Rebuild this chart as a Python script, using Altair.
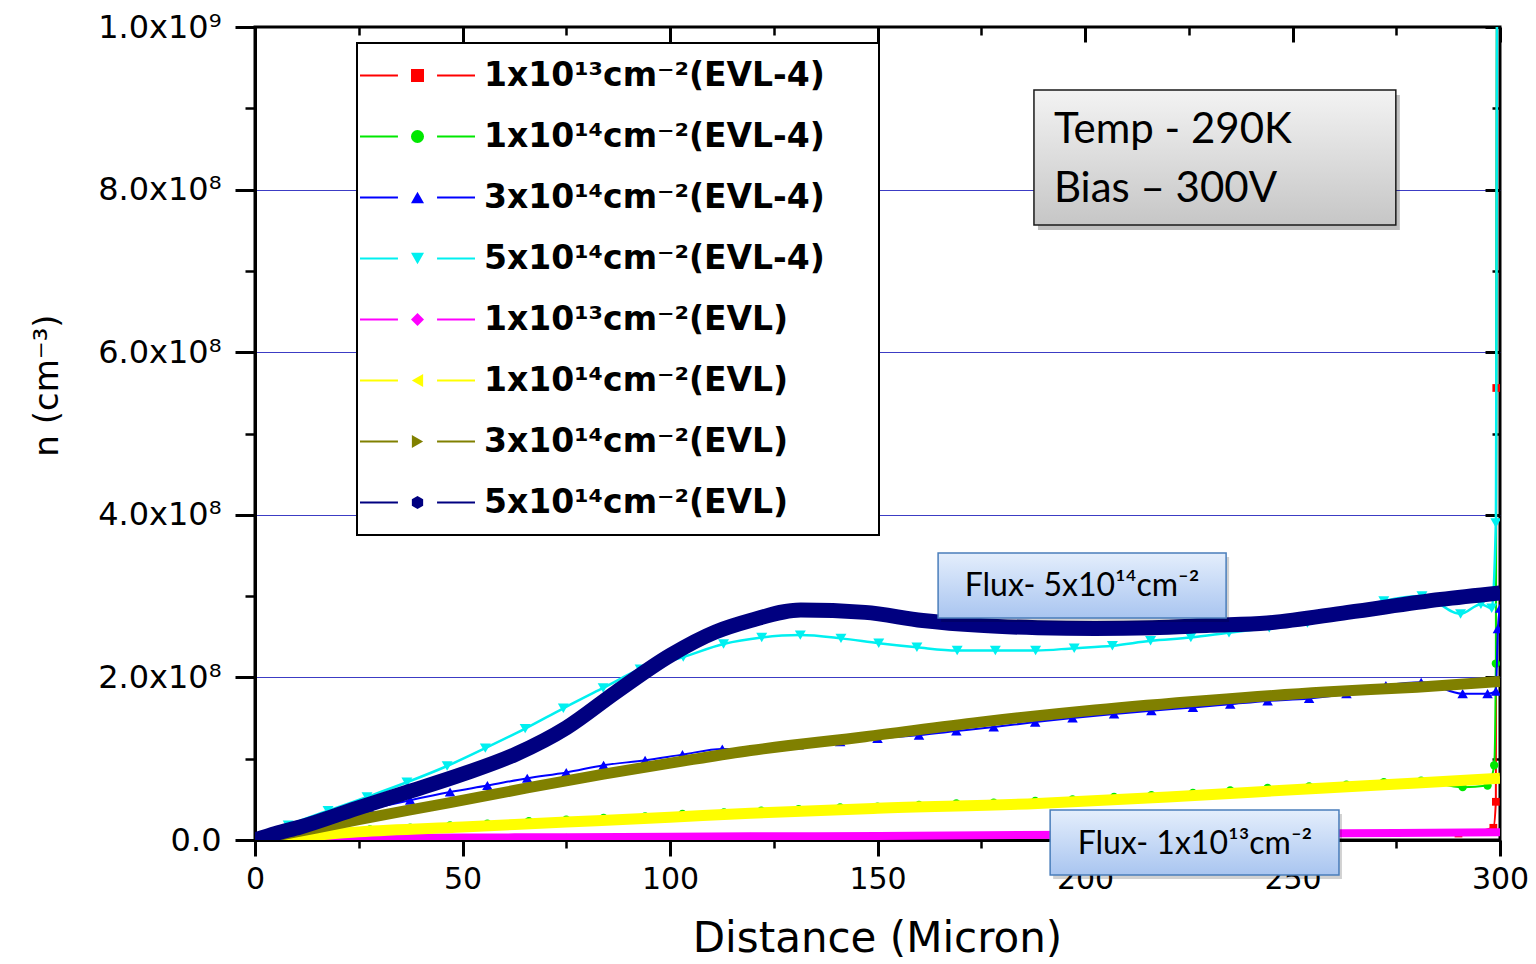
import altair as alt
import pandas as pd

# ---------------- series names / styles ----------------
NAMES = [
    "1x10¹³cm⁻²(EVL-4)", "1x10¹⁴cm⁻²(EVL-4)", "3x10¹⁴cm⁻²(EVL-4)", "5x10¹⁴cm⁻²(EVL-4)",
    "1x10¹³cm⁻²(EVL)", "1x10¹⁴cm⁻²(EVL)", "3x10¹⁴cm⁻²(EVL)", "5x10¹⁴cm⁻²(EVL)",
]
COLORS = ["#ff0000", "#00e800", "#0000ff", "#00f0f0", "#ff00ff", "#ffff00", "#808000", "#000080"]
HEXAGON = "M0,-1L0.866,-0.5L0.866,0.5L0,1L-0.866,0.5L-0.866,-0.5Z"
SHAPES = ["square", "circle", "triangle-up", "triangle-down", "diamond",
          "triangle-left", "triangle-right", HEXAGON]
LINE_W = [2, 2, 2, 2.5, 8, 11, 11, 15]
PT_SIZE = [60, 70, 110, 120, 50, 70, 70, 80]

# ---------------- data (x in micron, y in units of 1e8 cm^-3) ----------------
x_red = [0, 50, 100, 150, 200, 250, 290, 298.4, 299.0, 299.1, 299.3]
y_red = [0, 0.015, 0.025, 0.035, 0.05, 0.065, 0.08, 0.15, 0.47, 5.56, 12]

x_green = [0, 8, 17.6, 27.7, 37.4, 47, 56, 66, 75, 84, 94, 103, 113, 122, 131, 141, 150, 160,
           169, 178, 188, 197, 207, 216, 226, 235, 244, 254, 263, 272, 281, 291, 297, 298.6,
           299.0, 299.3]
y_green = [0, 0.05, 0.09, 0.13, 0.15, 0.18, 0.20, 0.23, 0.25, 0.27, 0.29, 0.32, 0.34, 0.36,
           0.38, 0.40, 0.41, 0.43, 0.45, 0.46, 0.48, 0.50, 0.53, 0.55, 0.58, 0.61, 0.64, 0.66,
           0.68, 0.71, 0.73, 0.65, 0.67, 0.92, 2.17, 12]

x_blue = [0, 8, 17.6, 27.7, 37.4, 47, 56, 65.6, 75, 84, 94, 103, 112.6, 122, 131, 141, 150,
          160, 169, 178, 188, 197, 207, 216, 226, 235, 244, 254, 263, 272.5, 281, 291, 297,
          299, 299.5, 300]
y_blue = [0, 0.13, 0.26, 0.38, 0.49, 0.59, 0.67, 0.76, 0.83, 0.92, 0.98, 1.05, 1.12, 1.12,
          1.17, 1.21, 1.25, 1.29, 1.34, 1.39, 1.45, 1.50, 1.55, 1.59, 1.63, 1.67, 1.71, 1.74,
          1.80, 1.90, 1.94, 1.80, 1.80, 1.83, 2.60, 2.85]

x_cyan = [0, 8.0, 17.6, 27.0, 36.6, 46.3, 55.5, 65.1, 74.3, 83.9, 92.8, 103.2, 112.9, 122.1,
          131.4, 141.2, 150.3, 159.5, 169.2, 178.4, 188.1, 197.4, 206.6, 215.8, 225.5, 234.7,
          244.4, 253.6, 262.8, 272.0, 281.2, 290.5, 295.4, 298.0, 299.0, 299.4, 300]
y_cyan = [0, 0.18, 0.36, 0.53, 0.71, 0.91, 1.13, 1.37, 1.62, 1.87, 2.10, 2.25, 2.41, 2.49,
          2.52, 2.48, 2.42, 2.37, 2.33, 2.33, 2.33, 2.36, 2.39, 2.45, 2.49, 2.55, 2.61, 2.67,
          2.80, 2.94, 3.00, 2.78, 2.90, 2.85, 3.90, 12, 12]

x_magenta = [0, 25, 50, 75, 100, 119.4, 150, 200, 250, 300]
y_magenta = [0, 0.025, 0.03, 0.035, 0.04, 0.045, 0.05, 0.065, 0.08, 0.095]

x_yellow = [0, 10, 25, 50, 75, 100, 119.4, 150, 188.6, 220, 257.8, 280, 300]
y_yellow = [0, 0.04, 0.10, 0.16, 0.22, 0.28, 0.33, 0.39, 0.45, 0.53, 0.64, 0.70, 0.76]

x_olive = [0, 10, 25, 37.4, 47, 65.6, 84, 103, 119.4, 147, 174.7, 202.4, 230.1, 257.8, 280, 300]
y_olive = [0, 0.10, 0.25, 0.37, 0.46, 0.64, 0.81, 0.97, 1.10, 1.27, 1.45, 1.60, 1.72, 1.82,
           1.88, 1.95]

x_navy = [0, 5, 10.9, 24.5, 37.4, 50, 63, 75, 87, 100, 111, 119.4, 131.5, 147, 160.9, 174.7,
          188.6, 202.4, 216.2, 230.1, 243.9, 263.3, 285.7, 300]
y_navy = [0, 0.08, 0.16, 0.39, 0.60, 0.81, 1.06, 1.38, 1.82, 2.27, 2.56, 2.70, 2.83, 2.80,
          2.70, 2.64, 2.61, 2.60, 2.61, 2.64, 2.67, 2.80, 2.96, 3.04]

SERIES_X = [x_red, x_green, x_blue, x_cyan, x_magenta, x_yellow, x_olive, x_navy]
SERIES_Y = [y_red, y_green, y_blue, y_cyan, y_magenta, y_yellow, y_olive, y_navy]

X_MAJOR = [0, 50, 100, 150, 200, 250, 300]
X_MINOR = [25, 75, 125, 175, 225, 275]
Y_MAJOR = [0, 2, 4, 6, 8, 10]
Y_MINOR = [1, 3, 5, 7, 9]
Y_GRID = [2, 4, 6, 8]

# annotation anchors (data coordinates)
TEMP_BOX = {"x": [187.7], "x2": [274.9], "y": [9.225], "y2": [7.565]}
TEMP_TEXT = {"x": [192.5], "y": [8.73], "t": ["Temp - 290K\nBias – 300V"]}
FLUX_BOXES = {"x": [164.6, 191.6], "x2": [234.0, 261.2], "y": [3.53, 0.369], "y2": [2.73, -0.431]}
FLUX_TEXT = {"x": [199.3, 226.5], "y": [3.124, -0.049],
             "t": ["Flux- 5x10¹⁴cm⁻²", "Flux- 1x10¹³cm⁻²"]}

# ---------------- build ----------------
rows = []
for name, xs, ys in zip(NAMES, SERIES_X, SERIES_Y):
    for xv, yv in zip(xs, ys):
        rows.append({"series": name, "x": xv, "y": yv})
df = pd.DataFrame(rows)

xscale = alt.Scale(domain=[0, 300], nice=False, zero=False)
yscale = alt.Scale(domain=[0, 10], nice=False, zero=False)

FONT = "DejaVu Sans"
Y_LABEL_EXPR = ("datum.value == 0 ? '0.0' : (datum.value >= 10 ? "
                "format(datum.value/10, '.1f') + 'x10⁹' : format(datum.value, '.1f') + 'x10⁸')")

x_axes = [
    alt.Axis(orient="bottom", values=X_MAJOR, tickSize=16, tickWidth=3, tickColor="black",
             domainColor="black", domainWidth=3, labelFont=FONT, labelFontSize=30,
             labelColor="black", labelPadding=8, labelFlush=False, labelOverlap=False,
             grid=False, title="Distance (Micron)", titleFont=FONT, titleFontSize=42,
             titleFontWeight="normal", titleColor="black", titleX=622, titleY=98,
             titleAlign="center", titleBaseline="middle"),
    alt.Axis(orient="bottom", values=X_MINOR, tickSize=8, tickWidth=2.5, tickColor="black",
             labels=False, domain=False, grid=False, title=None),
    alt.Axis(orient="top", values=X_MAJOR, tickSize=15, offset=-15, tickWidth=3,
             tickColor="black", labels=False, domain=False, grid=False, title=None),
    alt.Axis(orient="top", values=X_MINOR, tickSize=8, offset=-8, tickWidth=2.5,
             tickColor="black", labels=False, domain=False, grid=False, title=None),
]
y_axes = [
    alt.Axis(orient="left", values=Y_MAJOR, tickSize=20, tickWidth=3, tickColor="black",
             domainColor="black", domainWidth=3, labelFont=FONT, labelFontSize=32,
             labelColor="black", labelPadding=14, labelOverlap=False, labelExpr=Y_LABEL_EXPR,
             grid=False, title="n (cm⁻³)", titleFont=FONT, titleFontSize=34,
             titleFontWeight="normal", titleColor="black", titleX=-208, titleY=358,
             titleAngle=270, titleAlign="center", titleBaseline="middle"),
    alt.Axis(orient="left", values=Y_MINOR, tickSize=10, tickWidth=2.5, tickColor="black",
             labels=False, domain=False, grid=False, title=None),
    alt.Axis(orient="right", values=Y_MAJOR, tickSize=15, offset=-15, tickWidth=3,
             tickColor="black", labels=False, domain=False, grid=False, title=None),
    alt.Axis(orient="right", values=Y_MINOR, tickSize=8, offset=-8, tickWidth=2.5,
             tickColor="black", labels=False, domain=False, grid=False, title=None),
    alt.Axis(orient="left", values=Y_GRID, grid=True, gridColor="#3c3cc4", gridWidth=1,
             ticks=False, labels=False, domain=False, title=None),
]

legend_lines = alt.Legend(
    orient="none", legendX=102, legendY=16, title=None,
    symbolType="M-1,0L-0.34,0M0.34,0L1,0", symbolSize=13225, symbolStrokeWidth=2,
    labelFont=FONT, labelFontSize=33, labelFontWeight="bold", labelColor="black",
    labelLimit=1000, labelOffset=8,
    labelExpr="datum.label + '\u2800\u2800'",
    clipHeight=61, rowPadding=0, padding=2, strokeColor="black", fillColor="white",
)
legend_marks = alt.Legend(
    orient="none", legendX=102, legendY=16, title=None, values=NAMES,
    labelExpr="''", labelFontSize=33, clipHeight=61, rowPadding=0, padding=2,
    symbolOffset=42, symbolSize=170, symbolStrokeWidth=0, symbolOpacity=1,
    strokeColor="transparent", fillColor="transparent",
)

color_scale = alt.Scale(domain=NAMES, range=COLORS)
fill_scale = alt.Scale(domain=NAMES + ["~"], range=COLORS + ["#ffffff"])
shape_scale = alt.Scale(domain=NAMES + ["~"], range=SHAPES + ["circle"])

layers = []
axis_idx = 0


def next_axes():
    global axis_idx
    xa = x_axes[axis_idx] if axis_idx < len(x_axes) else None
    ya = y_axes[axis_idx] if axis_idx < len(y_axes) else None
    axis_idx += 1
    return xa, ya


for i, name in enumerate(NAMES):
    sub = df[df["series"] == name]
    xa, ya = next_axes()
    line = alt.Chart(sub).mark_line(clip=True, strokeWidth=LINE_W[i], interpolate="monotone").encode(
        x=alt.X("x:Q", scale=xscale, axis=xa),
        y=alt.Y("y:Q", scale=yscale, axis=ya),
        color=alt.Color("series:N", scale=color_scale,
                        legend=legend_lines if i == 0 else None),
    )
    layers.append(line)
    xa, ya = next_axes()
    pts = alt.Chart(sub).mark_point(clip=True, filled=True, opacity=1, size=PT_SIZE[i],
                                    strokeWidth=0).encode(
        x=alt.X("x:Q", scale=xscale, axis=xa),
        y=alt.Y("y:Q", scale=yscale, axis=ya),
        fill=alt.Fill("series:N", scale=fill_scale, legend=legend_marks if i == 0 else None),
        shape=alt.Shape("series:N", scale=shape_scale, legend=legend_marks if i == 0 else None),
    )
    layers.append(pts)

# ---------------- annotations ----------------
temp_df = pd.DataFrame(TEMP_BOX)
flux_df = pd.DataFrame(FLUX_BOXES)


def box_enc():
    return dict(
        x=alt.X("x:Q", scale=xscale, axis=None), x2="x2:Q",
        y=alt.Y("y:Q", scale=yscale, axis=None), y2="y2:Q",
    )


temp_shadow = alt.Chart(temp_df).mark_rect(
    clip=False, fill="#000000", opacity=0.25, xOffset=4, x2Offset=4, yOffset=5, y2Offset=5
).encode(**box_enc())
temp_rect = alt.Chart(temp_df).mark_rect(
    clip=False, stroke="#1a1a1a", strokeWidth=1.5,
    fill=alt.Gradient(gradient="linear", x1=0, y1=0, x2=0, y2=1,
                      stops=[alt.GradientStop(offset=0, color="#f3f3f3"),
                             alt.GradientStop(offset=1, color="#c6c6c6")]),
).encode(**box_enc())
temp_text = alt.Chart(pd.DataFrame(TEMP_TEXT)).mark_text(
    clip=False, align="left", baseline="middle", font="Lato, 'Noto Sans'", fontSize=42,
    lineBreak="\n", lineHeight=59, color="black",
).encode(x=alt.X("x:Q", scale=xscale, axis=None), y=alt.Y("y:Q", scale=yscale, axis=None),
         text="t:N")

flux_shadow = alt.Chart(flux_df).mark_rect(
    clip=False, fill="#000000", opacity=0.18, xOffset=3, x2Offset=3, yOffset=4, y2Offset=4
).encode(**box_enc())
flux_rect = alt.Chart(flux_df).mark_rect(
    clip=False, stroke="#4a7ebb", strokeWidth=1.5,
    fill=alt.Gradient(gradient="linear", x1=0, y1=0, x2=0, y2=1,
                      stops=[alt.GradientStop(offset=0, color="#e4eefc"),
                             alt.GradientStop(offset=1, color="#a9c5f0")]),
).encode(**box_enc())
flux_text = alt.Chart(pd.DataFrame(FLUX_TEXT)).mark_text(
    clip=False, align="center", baseline="middle", font="Lato, 'Noto Sans'", fontSize=32,
    color="black",
).encode(x=alt.X("x:Q", scale=xscale, axis=None), y=alt.Y("y:Q", scale=yscale, axis=None),
         text="t:N")

layers += [temp_shadow, temp_rect, temp_text, flux_shadow, flux_rect, flux_text]

chart = (
    alt.layer(*layers)
    .resolve_axis(x="independent", y="independent")
    .properties(
        width=1245, height=813,
        padding={"left": 255, "top": 27, "right": 36, "bottom": 124},
        autosize=alt.AutoSizeParams(type="none"),
        background="white",
    )
    .configure_view(stroke="black", strokeWidth=3)
    .configure_legend(strokeWidth=2)
)

chart.save("out.html", embed_options={"renderer": "svg", "actions": False})
